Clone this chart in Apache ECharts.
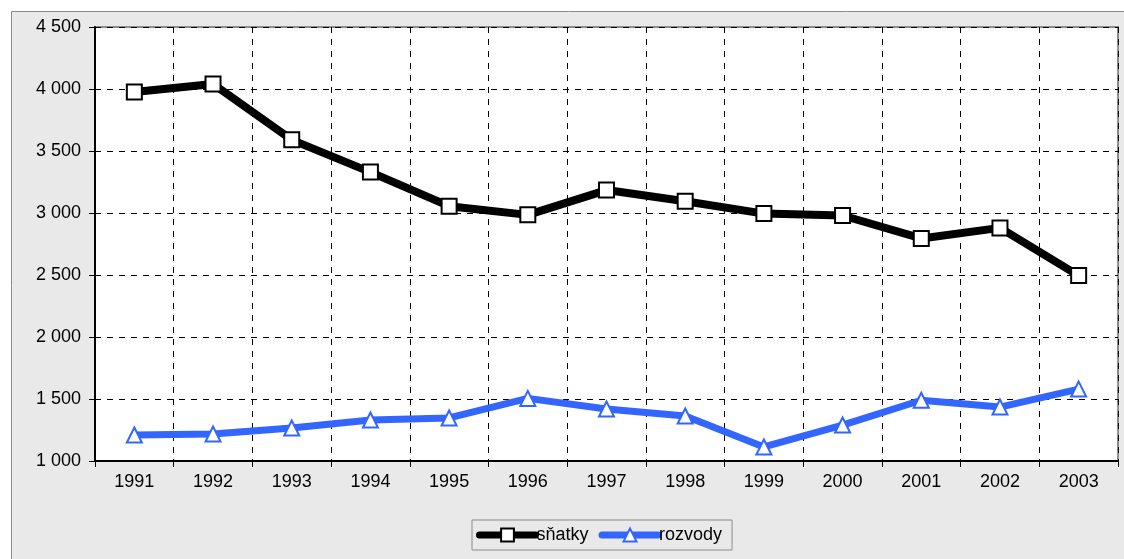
<!DOCTYPE html>
<html>
<head>
<meta charset="utf-8">
<script src="https://cdn.jsdelivr.net/npm/echarts@6/dist/echarts.min.js"></script>
<style>
  html, body { margin: 0; padding: 0; background: #fff; }
  #chart { width: 1124px; height: 559px; }
</style>
</head>
<body>
<div id="chart"></div>
<script>
// roky a hodnoty
var years = ['1991', '1992', '1993', '1994', '1995', '1996', '1997', '1998', '1999', '2000', '2001', '2002', '2003'];
var snatky = [3975, 4040, 3590, 3330, 3055, 2985, 3185, 3095, 2995, 2980, 2795, 2880, 2495];
var rozvody = [1210, 1218, 1266, 1331, 1347, 1505, 1419, 1363, 1113, 1290, 1490, 1435, 1580];

var chart = echarts.init(document.getElementById('chart'));

function fmt(v) {
    var s = String(v);
    if (s.length > 3) s = s.slice(0, s.length - 3) + ' ' + s.slice(-3);
    return s;
}

var option = {
    backgroundColor: '#fff',
    animation: false,
    textStyle: { fontFamily: 'Liberation Sans, Arial, sans-serif' },
    graphic: [{
        type: 'rect',
        z: -10,
        shape: { x: 11.5, y: 11.5, width: 1130, height: 560 },
        style: { fill: '#e9e9e9', stroke: '#8c8c8c', lineWidth: 1 }
    }],
    grid: {
        left: 95, right: 6, top: 27, bottom: 98,
        show: true,
        backgroundColor: '#fff',
        borderColor: '#8c8c8c',
        borderWidth: 2,
        containLabel: false
    },
    legend: {
        left: 472, top: 520,
        itemWidth: 56, itemHeight: 16,
        itemGap: 10,
        padding: [6, 10, 6, 4],
        backgroundColor: '#e9e9e9',
        borderColor: '#8c8c8c',
        borderWidth: 1,
        borderRadius: 0,
        lineStyle: { width: 7, cap: 'round' },
        textStyle: { fontSize: 18, color: '#000', padding: [0, 0, 0, -4] },
        data: ['sňatky', 'rozvody']
    },
    xAxis: {
        type: 'category',
        data: years,
        boundaryGap: true,
        axisLine: { lineStyle: { color: '#000', width: 2 } },
        axisTick: { show: true, length: 6, lineStyle: { color: '#000', width: 1 } },
        axisLabel: { fontSize: 18, color: '#000', margin: 12 },
        splitLine: { show: true, lineStyle: { color: '#000', type: [6, 6], width: 1 } }
    },
    yAxis: {
        type: 'value',
        min: 1000, max: 4500, interval: 500,
        axisLine: { show: true, lineStyle: { color: '#000', width: 2 } },
        axisTick: { show: true, length: 6, lineStyle: { color: '#000', width: 1 } },
        axisLabel: { fontSize: 18, color: '#000', margin: 14, formatter: fmt },
        splitLine: { show: true, lineStyle: { color: '#000', type: [6, 6], width: 1 } }
    },
    series: [
        {
            name: 'sňatky',
            type: 'line',
            data: snatky,
            symbol: 'rect',
            symbolSize: 15,
            lineStyle: { color: '#000', width: 8 },
            itemStyle: { color: '#fff', borderColor: '#000', borderWidth: 2 },
            z: 3
        },
        {
            name: 'rozvody',
            type: 'line',
            data: rozvody,
            symbol: 'triangle',
            symbolSize: 15,
            lineStyle: { color: '#3366ff', width: 7 },
            itemStyle: { color: '#fff', borderColor: '#3366ff', borderWidth: 2 },
            z: 2
        }
    ]
};

chart.setOption(option);
</script>
</body>
</html>
